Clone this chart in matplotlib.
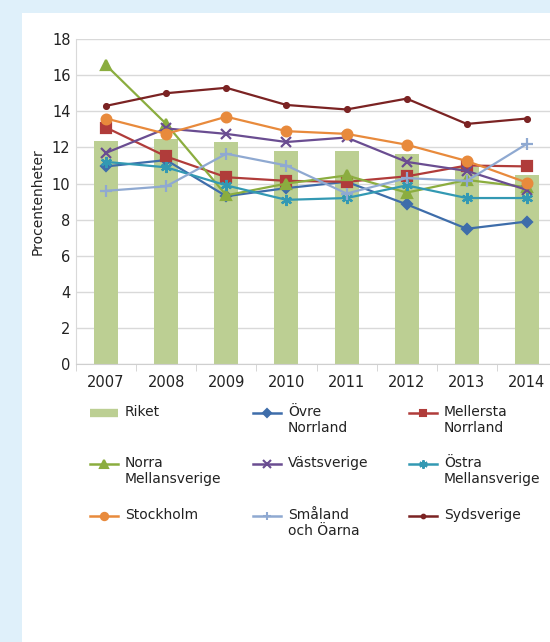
import matplotlib.pyplot as plt
from matplotlib.lines import Line2D
from matplotlib.patches import Rectangle

years = [2007, 2008, 2009, 2010, 2011, 2012, 2013, 2014]

riket = [12.35, 12.45, 12.3, 11.8, 11.8, 11.65, 10.9, 10.5]
ovre_norrland = [10.95, 11.3, 9.3, 9.75, 10.1, 8.85, 7.5, 7.9]
mellersta_norrland = [13.1, 11.5, 10.35, 10.15, 10.1, 10.4, 11.0, 10.95]
norra_mellansverige = [16.55, 13.3, 9.35, 10.0, 10.45, 9.5, 10.2, 9.8]
vastsverige = [11.7, 13.05, 12.75, 12.3, 12.55, 11.2, 10.7, 9.65]
ostra_mellansverige = [11.2, 10.9, 9.9, 9.1, 9.2, 9.9, 9.2, 9.2]
stockholm = [13.6, 12.75, 13.7, 12.9, 12.75, 12.15, 11.25, 10.05]
smaland = [9.6, 9.85, 11.65, 11.0, 9.45, 10.3, 10.15, 12.2]
sydsverige = [14.3, 15.0, 15.3, 14.35, 14.1, 14.7, 13.3, 13.6]

# label, values, colour, marker, marker size
series = [
    ("Övre\nNorrland", ovre_norrland, "#3E6DAA", "D", 5),
    ("Mellersta\nNorrland", mellersta_norrland, "#B03C3A", "s", 6.5),
    ("Norra\nMellansverige", norra_mellansverige, "#8BAD3F", "^", 7.5),
    ("Västsverige", vastsverige, "#6A4D91", "x", 7),
    ("Östra\nMellansverige", ostra_mellansverige, "#3399B3", (6, 2, 0), 8),
    ("Stockholm", stockholm, "#E88A3C", "o", 7),
    ("Småland\noch Öarna", smaland, "#8FA9D1", "+", 8),
    ("Sydsverige", sydsverige, "#7B2323", "o", 3.5),
]
bar_color = "#BCCF93"

fig = plt.figure(figsize=(5.5, 6.42), dpi=100, facecolor="#DFF0FA")
fig.patches.append(Rectangle((22 / 550, 0), 1, 1 - 13 / 642, transform=fig.transFigure,
                             facecolor="white", edgecolor="none", zorder=-10))

ax = fig.add_axes([76 / 550, 1 - 364.3 / 642, 481 / 550, 325.3 / 642])
ax.set_facecolor("white")
x = list(range(len(years)))
ax.bar(x, riket, width=0.4, color=bar_color, zorder=2)
for label, vals, col, mk, ms in series:
    ax.plot(x, vals, color=col, lw=1.6, marker=mk, markersize=ms,
            markeredgecolor=col, markerfacecolor=col, markeredgewidth=1.6, zorder=3)

ax.set_xlim(-0.5, 7.5)
ax.set_ylim(0, 18)
ax.set_yticks(range(0, 19, 2))
ax.set_xticks(x)
ax.set_xticklabels([str(y) for y in years])
ax.set_xticks([i + 0.5 for i in range(-1, 8)], minor=True)
ax.tick_params(axis="x", which="major", length=0, labelsize=10.5, pad=8, colors="#222222")
ax.tick_params(axis="x", which="minor", length=5, color="#D0D0D0", direction="out")
ax.tick_params(axis="y", length=0, labelsize=10.5, pad=4, colors="#222222")
ax.grid(axis="y", color="#D9D9D9", lw=1, zorder=0)
for s in ["top", "right"]:
    ax.spines[s].set_visible(False)
ax.spines["left"].set_color("#D9D9D9")
ax.spines["bottom"].set_color("#CFCFCF")
ax.set_ylabel("Procentenheter", fontsize=10, color="#222222", labelpad=5)

# legend drawn entry by entry, 3 x 3 grid
entries = [("Riket", None, bar_color, None, 0)] + series
col_x = [90, 253, 409]
row_y = [413, 464, 516]
for i, (label, vals, col, mk, ms) in enumerate(entries):
    cx = col_x[i % 3]
    cy = row_y[i // 3]
    if mk is None:
        h = Line2D([cx / 550, (cx + 28) / 550], [1 - cy / 642] * 2, color=col, lw=6,
                   solid_capstyle="butt", transform=fig.transFigure)
    else:
        h = Line2D([cx / 550, (cx + 28) / 550], [1 - cy / 642] * 2, color=col, lw=1.8,
                   transform=fig.transFigure)
        fig.add_artist(Line2D([(cx + 14) / 550], [1 - cy / 642], color=col, marker=mk,
                              markersize=ms * 0.75, markeredgewidth=1.5,
                              transform=fig.transFigure))
    fig.add_artist(h)
    fig.text((cx + 35) / 550, 1 - (cy - 8) / 642, label, fontsize=10, color="#222222",
             va="top", ha="left", linespacing=1.15)

fig.savefig("out.png", dpi=100, facecolor=fig.get_facecolor())
